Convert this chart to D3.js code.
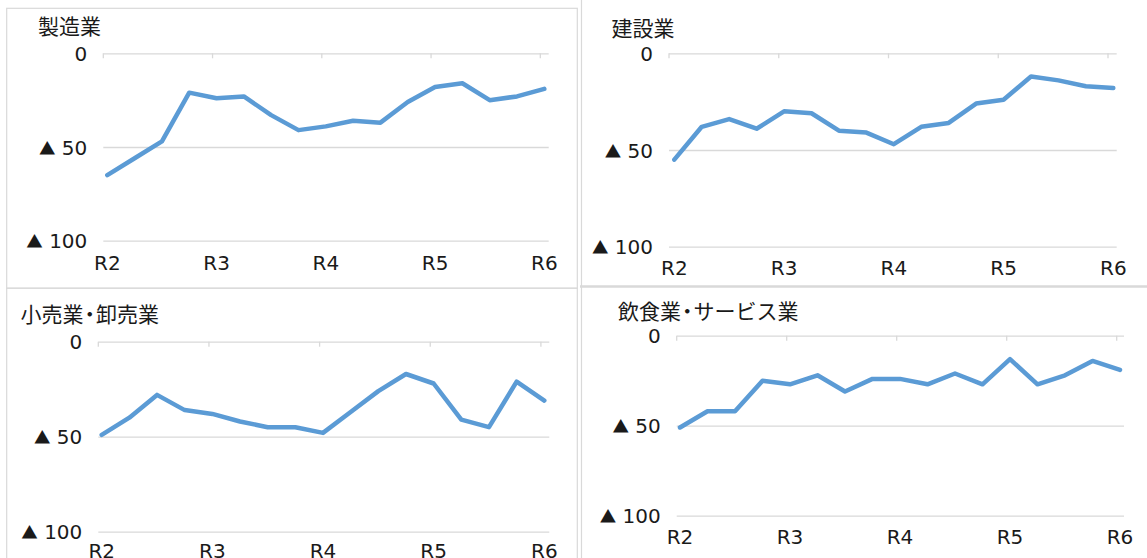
<!DOCTYPE html>
<html>
<head>
<meta charset="utf-8">
<script src="https://cdn.jsdelivr.net/npm/d3@7"></script>
<style>
  html, body { margin: 0; padding: 0; background: #ffffff; }
  svg { display: block; }
  .num { font-family: "DejaVu Sans", "Noto Sans CJK JP", sans-serif; font-size: 20px; fill: #1a1a1a; }
  .tri { font-family: "Noto Sans CJK JP", sans-serif; font-size: 16.5px; }
  .ttl { font-family: "Noto Sans CJK JP", sans-serif; font-size: 21px; fill: #1a1a1a; }
  .dot { font-feature-settings: "halt" 1; }
</style>
</head>
<body>
<svg id="chart" width="1147" height="558"></svg>
<script>
// Year labels on the category axis (one every four quarters)
const periods = ["R2", "R3", "R4", "R5", "R6"];
const quartersPerPeriod = 4;

// Y axis ticks (▲ marks a negative value)
const yTicks = [0, -50, -100];

// Panel titles
const titles = ["製造業", "建設業", "小売業・卸売業", "飲食業・サービス業"];

// Quarterly DI values per industry
const manufacturing   = [-65, -56, -47, -21, -24, -23, -33, -41, -39, -36, -37, -26, -18, -16, -25, -23, -19];
const construction    = [-55, -38, -34, -39, -30, -31, -40, -41, -47, -38, -36, -26, -24, -12, -14, -17, -18];
const retailWholesale = [-49, -40, -28, -36, -38, -42, -45, -45, -48, -37, -26, -17, -22, -41, -45, -21, -31];
const foodService     = [-51, -42, -42, -25, -27, -22, -31, -24, -24, -27, -21, -27, -13, -27, -22, -14, -19];

const seriesList = [manufacturing, construction, retailWholesale, foodService];

// Panel geometry: grid span, first/last point, value axis span, title and label baselines
const layout = [
  { gx0: 103.3, gx1: 548.7, px0: 107.3, px1: 544.3, y0: 53.3,  y1: 240.7, tx: 38,    ty: 34,    ly: 269.5 },
  { gx0: 669.0, gx1: 1116.7, px0: 674.3, px1: 1113.3, y0: 53.3, y1: 246.7, tx: 611.5, ty: 35.5,  ly: 274.5 },
  { gx0: 98.3,  gx1: 549.3, px0: 101.7, px1: 544.3, y0: 341.7, y1: 531.7, tx: 20.5,  ty: 322,   ly: 558 },
  { gx0: 676.7, gx1: 1124.0, px0: 680.0, px1: 1120.0, y0: 335.7, y1: 515.7, tx: 618,  ty: 318.5, ly: 543.5 }
];

const gridColor = "#d9d9d9";
const lineColor = "#5b9bd5";

const svg = d3.select("#chart");

// Frames around the panels
const frames = svg.append("g").attr("fill", "none").attr("stroke", gridColor);
frames.append("rect").attr("x", 6.7).attr("y", 8.3).attr("width", 570.6).attr("height", 280).attr("stroke-width", 1.2);
frames.append("path").attr("d", "M6.7,558V288H577.3V558").attr("stroke-width", 1.2);
frames.append("path").attr("d", "M581.5,0V558").attr("stroke-width", 1.2);
frames.append("path").attr("d", "M580,286.5H1147").attr("stroke-width", 2.5);

function drawTitle(g, text, x, y) {
  const t = g.append("text").attr("class", "ttl").attr("x", x).attr("y", y);
  text.split("・").forEach((p, i) => {
    if (i > 0) t.append("tspan").attr("class", "dot").attr("dx", 1).text("・");
    t.append("tspan").attr("dx", i > 0 ? 1 : 0).text(p);
  });
}

seriesList.forEach((values, k) => {
  const L = layout[k];
  const g = svg.append("g");

  const x = d3.scaleLinear().domain([0, values.length - 1]).range([L.px0, L.px1]);
  const y = d3.scaleLinear().domain([0, -100]).range([L.y0, L.y1]);
  const inset = L.px0 - L.gx0;

  // Value axis with horizontal gridlines
  const fmt = v => v === 0 ? "0" : "▲ " + Math.abs(v);
  const yAxis = d3.axisLeft(y)
    .tickValues(yTicks)
    .tickSize(0)
    .tickPadding(0)
    .tickFormat(fmt);

  const ya = g.append("g").attr("transform", `translate(${L.gx0},0)`).call(yAxis);
  ya.select(".domain").remove();
  ya.selectAll(".tick text")
    .attr("class", "num")
    .attr("x", -16)
    .attr("dy", "0.36em")
    .each(function (v) {
      const parts = fmt(v).split(" ");
      if (parts.length > 1) {
        const t = d3.select(this).text(null);
        t.append("tspan").attr("class", "tri").text(parts[0]);
        t.append("tspan").text(" " + parts[1]);
      }
    });
  ya.attr("font-family", null).attr("font-size", null);
  ya.selectAll(".tick").append("line")
    .attr("x1", 0).attr("x2", L.gx1 - L.gx0)
    .attr("stroke", gridColor).attr("stroke-width", 1.3);

  // Category tick marks hanging from the zero line
  const tickIdx = periods.map((_, i) => i * quartersPerPeriod);
  g.append("g").selectAll("line").data(tickIdx).join("line")
    .attr("x1", d => x(d) - inset).attr("x2", d => x(d) - inset)
    .attr("y1", y(0)).attr("y2", y(0) + 5)
    .attr("stroke", gridColor).attr("stroke-width", 1.3);

  // Period labels
  g.append("g").selectAll("text").data(periods).join("text")
    .attr("class", "num")
    .attr("text-anchor", "middle")
    .attr("x", (d, i) => x(i * quartersPerPeriod))
    .attr("y", L.ly)
    .text(d => d);

  // Series line
  const line = d3.line().x((d, i) => x(i)).y(d => y(d));
  g.append("path")
    .datum(values)
    .attr("d", line)
    .attr("fill", "none")
    .attr("stroke", lineColor)
    .attr("stroke-width", 4.5)
    .attr("stroke-linejoin", "round")
    .attr("stroke-linecap", "round");

  drawTitle(g, titles[k], L.tx, L.ty);
});
</script>
</body>
</html>
